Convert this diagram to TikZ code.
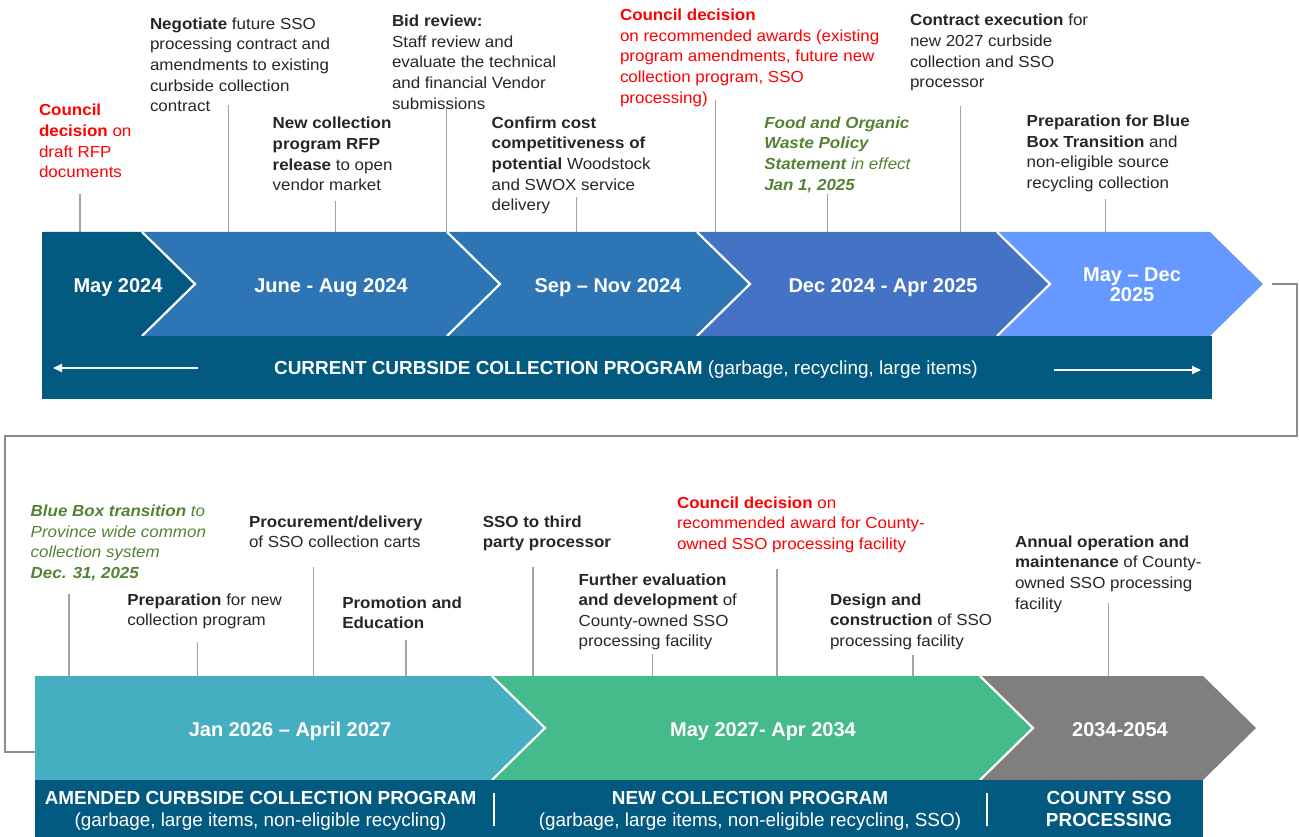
\documentclass[tikz,border=0pt]{standalone}
\usepackage{fontspec}
\setmainfont{Liberation Sans}
\newfontfamily\annfam{Liberation Sans}[FakeStretch=1.06]
\usetikzlibrary{arrows.meta}

\definecolor{cNavy}{HTML}{035A80}
\definecolor{cMid}{HTML}{2E75B6}
\definecolor{cRoyal}{HTML}{4472C4}
\definecolor{cSky}{HTML}{6699FF}
\definecolor{cAqua}{HTML}{45AFC1}
\definecolor{cGreenBar}{HTML}{45BB8B}
\definecolor{cGrayBar}{HTML}{7F7F7F}
\definecolor{cInk}{HTML}{262626}
\definecolor{cRed}{HTML}{FF0000}
\definecolor{cGreen}{HTML}{548235}
\definecolor{cLead}{HTML}{A3A3A3}
\definecolor{cWrap}{HTML}{8C8C8C}

% multi-line text blocks, first baseline = node baseline
\newcommand\ml[1]{\begin{tabular}[t]{@{}l@{}}#1\end{tabular}}
\newcommand\mlc[1]{\begin{tabular}[t]{@{}c@{}}#1\end{tabular}}

% chevron: fill, left, right, top, bottom, depth, notch factor (0 or 1)
\newcommand\chevron[7]{%
  \fill[#1] (#2,#4) -- (#3,#4) -- ({#3+#6},{(#4+#5)/2}) -- (#3,#5) -- (#2,#5)
    -- ({#2+#6*#7},{(#4+#5)/2}) -- cycle;}

% leader line from a text block down to the timeline
\newcommand\leader[4]{%
  \coordinate (#1-a) at (#2,#3);
  \coordinate (#1-b) at (#2,#4);
  \draw[leaderline] (#1-a) -- (#1-b);}

\tikzset{
  ann/.style={anchor=base west, inner sep=0pt, outer sep=0pt, text=cInk,
    font=\annfam\fontsize{16}{20.6}\selectfont},
  annred/.style={ann, text=cRed},
  anngreen/.style={ann, text=cGreen, font=\annfam\itshape\fontsize{16}{20.6}\selectfont},
  leaderline/.style={draw=cLead, line width=1.3pt},
  datelbl/.style={anchor=base, inner sep=0pt, text=white,
    font=\bfseries\fontsize{20}{21}\selectfont},
  bandlbl/.style={anchor=base, inner sep=0pt, text=white,
    font=\fontsize{18.9}{21.5}\selectfont},
  sepline/.style={draw=white, line width=2.2pt},
  bandarrow/.style={draw=white, line width=2pt, -{Triangle[length=9pt,width=8pt]}},
  wrapline/.style={draw=cWrap, line width=1.2pt},
}

\begin{document}
\begin{tikzpicture}[x=1pt,y=-1pt]
\useasboundingbox (0,0) rectangle (1299,837);
\clip (0,0) rectangle (1299,837);

% ---------- leader lines (behind the bars) ----------
\leader{A1}{80}{194}{233}
\leader{A2}{228.7}{105}{233}
\leader{A3}{335.5}{201}{233}
\leader{A4}{446.7}{108}{233}
\leader{A5}{576.7}{196.7}{233}
\leader{A6}{715.5}{100}{233}
\leader{A7}{827.7}{194}{233}
\leader{A8}{960.5}{106}{236}
\leader{A9}{1105.7}{199.3}{233}
\leader{B1}{69}{594}{677}
\leader{B2}{197.3}{641.7}{677}
\leader{B3}{313.7}{566.7}{677}
\leader{B4}{406}{640}{677}
\leader{B5}{533}{566.7}{677}
\leader{B6}{652.8}{654}{677}
\leader{B7}{777}{569.3}{680}
\leader{B8}{913}{655}{677}
\leader{B9}{1108.3}{602.7}{678}

% ---------- wrap-around connector ----------
\coordinate (w0) at (1272,284);
\coordinate (w1) at (1297,284);
\coordinate (w2) at (1297,436);
\coordinate (w3) at (5,436);
\coordinate (w4) at (5,752);
\coordinate (w5) at (35,752);
\draw[wrapline] (w0) -- (w1) -- (w2) -- (w3) -- (w4) -- (w5);

% ---------- top timeline ----------
\chevron{cNavy}{42}{142}{232}{336}{53}{0}
\chevron{cMid}{142}{447}{232}{336}{53}{1}
\chevron{cMid}{447}{697}{232}{336}{53}{1}
\chevron{cRoyal}{697}{997}{232}{336}{53}{1}
\chevron{cSky}{997}{1210}{232}{336}{53}{1}
\draw[sepline] (142,232) -- (195,284) -- (142,336);
\draw[sepline] (447,232) -- (500,284) -- (447,336);
\draw[sepline] (697,232) -- (750,284) -- (697,336);
\draw[sepline] (997,232) -- (1050,284) -- (997,336);
\fill[cNavy] (42,336) rectangle (1212,399);

\node[datelbl] (d1) at (118,292) {May 2024};
\node[datelbl] (d2) at (331,292) {June - Aug 2024};
\node[datelbl] (d3) at (608,292) {Sep – Nov 2024};
\node[datelbl] (d4) at (883,292) {Dec 2024 - Apr 2025};
\node[datelbl] (d5) at (1132,282) {\mlc{May – Dec\\[-1pt]2025}};

\node[bandlbl] (band1) at (626,374.6)
  {\textbf{CURRENT CURBSIDE COLLECTION PROGRAM} (garbage, recycling, large items)};
\coordinate (la0) at (198,368);
\coordinate (la1) at (53,368);
\coordinate (ra0) at (1054,370);
\coordinate (ra1) at (1201,370);
\draw[bandarrow] (la0) -- (la1);
\draw[bandarrow] (ra0) -- (ra1);

% ---------- bottom timeline ----------
\chevron{cAqua}{35}{492}{676}{780}{53}{0}
\chevron{cGreenBar}{492}{980}{676}{780}{53}{1}
\chevron{cGrayBar}{980}{1203}{676}{780}{53}{1}
\draw[sepline] (492,676) -- (545,728) -- (492,780);
\draw[sepline] (980,676) -- (1033,728) -- (980,780);
\fill[cNavy] (35,780) rectangle (1203,845);

\node[datelbl] (d6) at (290,736) {Jan 2026 – April 2027};
\node[datelbl] (d7) at (763,736) {May 2027- Apr 2034};
\node[datelbl] (d8) at (1120,736) {2034-2054};

\node[bandlbl] (band2) at (260.6,804.6)
  {\mlc{\textbf{AMENDED CURBSIDE COLLECTION PROGRAM}\\(garbage, large items, non-eligible recycling)}};
\node[bandlbl] (band3) at (750,804.6)
  {\mlc{\textbf{NEW COLLECTION PROGRAM}\\(garbage, large items, non-eligible recycling, SSO)}};
\node[bandlbl] (band4) at (1109,804.6)
  {\mlc{\textbf{COUNTY SSO}\\\textbf{PROCESSING}}};
\coordinate (s1a) at (494,793);
\coordinate (s1b) at (494,826);
\coordinate (s2a) at (987,793);
\coordinate (s2b) at (987,826);
\draw[draw=white, line width=1.5pt] (s1a) -- (s1b);
\draw[draw=white, line width=1.5pt] (s2a) -- (s2b);

% ---------- top annotations ----------
\node[annred] (A1) at (39,116)
  {\ml{\textbf{Council}\\\textbf{decision} on\\draft RFP\\documents}};
\node[ann] (A2) at (150,29.3)
  {\ml{\textbf{Negotiate} future SSO\\processing contract and\\amendments to existing\\curbside collection\\contract}};
\node[ann] (A3) at (272.7,129)
  {\ml{\textbf{New collection}\\\textbf{program RFP}\\\textbf{release} to open\\vendor market}};
\node[ann] (A4) at (392,26.7)
  {\ml{\textbf{Bid review:}\\Staff review and\\evaluate the technical\\and financial Vendor\\submissions}};
\node[ann] (A5) at (491.7,128.3)
  {\ml{\textbf{Confirm cost}\\\textbf{competitiveness of}\\\textbf{potential} Woodstock\\and SWOX service\\delivery}};
\node[annred] (A6) at (620,20.7)
  {\ml{\textbf{Council decision}\\on recommended awards (existing\\program amendments, future new\\collection program, SSO\\processing)}};
\node[anngreen] (A7) at (764.3,128.3)
  {\ml{\textbf{Food and Organic}\\\textbf{Waste Policy}\\\textbf{Statement} in effect\\\textbf{Jan 1, 2025}}};
\node[ann] (A8) at (910,26)
  {\ml{\textbf{Contract execution} for\\new 2027 curbside\\collection and SSO\\processor}};
\node[ann] (A9) at (1026.7,126.7)
  {\ml{\textbf{Preparation for Blue}\\\textbf{Box Transition} and\\non-eligible source\\recycling collection}};

% ---------- bottom annotations ----------
\node[anngreen] (B1) at (30.7,516.7)
  {\ml{\textbf{Blue Box transition} to\\Province wide common\\collection system\\\textbf{Dec. 31, 2025}}};
\node[ann] (B2) at (127.3,605)
  {\ml{\textbf{Preparation} for new\\collection program}};
\node[ann] (B3) at (249,527.3)
  {\ml{\textbf{Procurement/delivery}\\of SSO collection carts}};
\node[ann] (B4) at (342.3,608.3)
  {\ml{\textbf{Promotion and}\\\textbf{Education}}};
\node[ann] (B5) at (482.8,527.3)
  {\ml{\textbf{SSO to third}\\\textbf{party processor}}};
\node[ann] (B6) at (578.6,585)
  {\ml{\textbf{Further evaluation}\\\textbf{and development} of\\County-owned SSO\\processing facility}};
\node[annred] (B7) at (677,508.3)
  {\ml{\textbf{Council decision} on\\recommended award for County-\\owned SSO processing facility}};
\node[ann] (B8) at (830,605)
  {\ml{\textbf{Design and}\\\textbf{construction} of SSO\\processing facility}};
\node[ann] (B9) at (1015,547.3)
  {\ml{\textbf{Annual operation and}\\\textbf{maintenance} of County-\\owned SSO processing\\facility}};
\end{tikzpicture}
\end{document}
